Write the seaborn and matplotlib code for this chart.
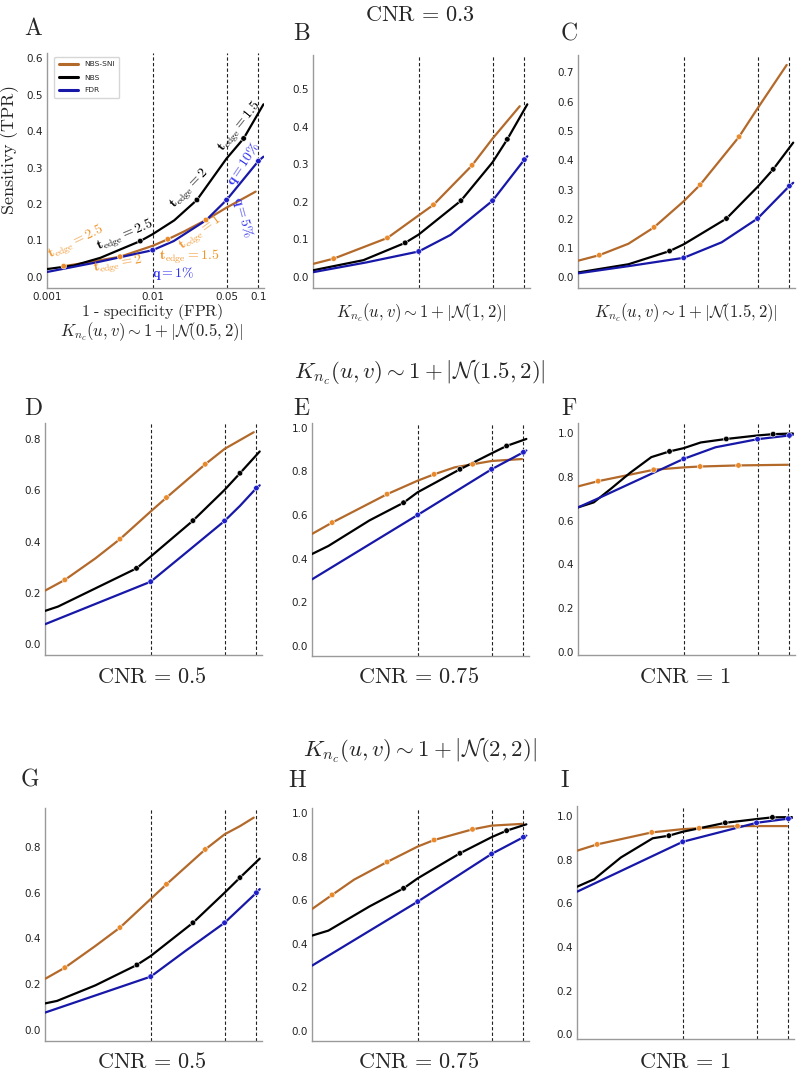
import numpy as np
import pandas as pd
import matplotlib
matplotlib.use("Agg")
import matplotlib.pyplot as plt
import seaborn as sns

# ---- data: (FPR, TPR) ----
METHODS = ["NBS-SNI", "NBS", "FDR"]
VLINES = [0.01, 0.05, 0.1]

# panel A : CNR = 0.3, N(0.5, 2)
A_SNI = [(0.00144, 0.029), (0.0025, 0.040), (0.00492, 0.055), (0.01, 0.085), (0.01391, 0.103),
         (0.02, 0.125), (0.0319, 0.156), (0.05, 0.190), (0.0943, 0.234)]
A_SNI_MK = [(0.00144, 0.029), (0.00492, 0.055), (0.01391, 0.103), (0.0319, 0.156)]
A_NBS = [(0.001, 0.021), (0.0018, 0.031), (0.0032, 0.052), (0.00763, 0.098), (0.01, 0.117),
         (0.016, 0.155), (0.0262, 0.211), (0.05, 0.325), (0.0725, 0.380), (0.1117, 0.474)]
A_NBS_MK = [(0.00763, 0.098), (0.0262, 0.211), (0.0725, 0.380)]
A_FDR = [(0.001, 0.013), (0.003, 0.040), (0.01, 0.073), (0.0158, 0.098), (0.0319, 0.155),
         (0.05, 0.211), (0.1, 0.318), (0.1117, 0.330)]
A_FDR_MK = [(0.01, 0.073), (0.05, 0.211), (0.1, 0.318)]

# panel B : CNR = 0.3, N(1, 2)
B_SNI = [(0.001, 0.035), (0.00157, 0.049), (0.00506, 0.104), (0.01, 0.164), (0.0138, 0.192),
         (0.032, 0.297), (0.05, 0.368), (0.0904, 0.454)]
B_SNI_MK = [(0.00157, 0.049), (0.00506, 0.104), (0.0138, 0.192), (0.032, 0.297)]
B_NBS = [(0.001, 0.018), (0.003, 0.045), (0.00745, 0.091), (0.01, 0.113), (0.0251, 0.203),
         (0.05, 0.305), (0.0689, 0.366), (0.1066, 0.459)]
B_NBS_MK = [(0.00745, 0.091), (0.0251, 0.203), (0.0689, 0.366)]
B_FDR = [(0.001, 0.013), (0.0032, 0.039), (0.01, 0.068), (0.02, 0.112), (0.05, 0.203),
         (0.1, 0.312), (0.1066, 0.321)]
B_FDR_MK = [(0.01, 0.068), (0.05, 0.203), (0.1, 0.312)]

# panel C : CNR = 0.3, N(1.5, 2)
C_SNI = [(0.001, 0.057), (0.00159, 0.076), (0.003, 0.115), (0.00524, 0.171), (0.01, 0.260),
         (0.0143, 0.316), (0.0334, 0.480), (0.05, 0.577), (0.0943, 0.725)]
C_SNI_MK = [(0.00159, 0.076), (0.00524, 0.171), (0.0143, 0.316), (0.0334, 0.480)]
C_NBS = [(0.001, 0.017), (0.003, 0.045), (0.00735, 0.090), (0.01, 0.113), (0.0254, 0.201),
         (0.05, 0.309), (0.0703, 0.369), (0.1087, 0.460)]
C_NBS_MK = [(0.00735, 0.090), (0.0254, 0.201), (0.0703, 0.369)]
C_FDR = [(0.001, 0.014), (0.0032, 0.040), (0.01, 0.067), (0.0229, 0.120), (0.05, 0.201),
         (0.1, 0.312), (0.1087, 0.323)]
C_FDR_MK = [(0.01, 0.067), (0.05, 0.201), (0.1, 0.312)]

# panel D : N(1.5, 2), CNR = 0.5
D_SNI = [(0.001, 0.209), (0.00154, 0.251), (0.003, 0.335), (0.00512, 0.410), (0.01, 0.518),
         (0.0141, 0.572), (0.0328, 0.702), (0.05, 0.762), (0.0944, 0.827)]
D_SNI_MK = [(0.00154, 0.251), (0.00512, 0.410), (0.0141, 0.572), (0.0328, 0.702)]
D_NBS = [(0.001, 0.130), (0.00133, 0.147), (0.003, 0.218), (0.00734, 0.296), (0.01, 0.342),
         (0.0251, 0.482), (0.05, 0.602), (0.0699, 0.667), (0.1075, 0.752)]
D_NBS_MK = [(0.00734, 0.296), (0.0251, 0.482), (0.0699, 0.667)]
D_FDR = [(0.001, 0.078), (0.01, 0.244), (0.0213, 0.355), (0.05, 0.481), (0.07, 0.540),
         (0.1, 0.609), (0.1075, 0.620)]
D_FDR_MK = [(0.01, 0.244), (0.05, 0.481), (0.1, 0.609)]

# panel E : N(1.5, 2), CNR = 0.75
E_SNI = [(0.001, 0.513), (0.00155, 0.565), (0.00513, 0.695), (0.01, 0.757), (0.0143, 0.786),
         (0.0224, 0.818), (0.0331, 0.832), (0.05, 0.847), (0.0969, 0.856)]
E_SNI_MK = [(0.00155, 0.565), (0.00513, 0.695), (0.0143, 0.786), (0.0331, 0.832)]
E_NBS = [(0.001, 0.421), (0.00143, 0.458), (0.0035, 0.575), (0.00735, 0.656), (0.01, 0.704),
         (0.0251, 0.809), (0.05, 0.882), (0.0694, 0.916), (0.1067, 0.948)]
E_NBS_MK = [(0.00735, 0.656), (0.0251, 0.809), (0.0694, 0.916)]
E_FDR = [(0.001, 0.305), (0.01, 0.600), (0.05, 0.809), (0.1, 0.887), (0.1067, 0.895)]
E_FDR_MK = [(0.01, 0.600), (0.05, 0.809), (0.1, 0.887)]

# panel F : N(1.5, 2), CNR = 1
F_SNI = [(0.001, 0.756), (0.00155, 0.780), (0.0052, 0.832), (0.01, 0.843), (0.0143, 0.847),
         (0.033, 0.852), (0.097, 0.855)]
F_SNI_MK = [(0.00155, 0.780), (0.0052, 0.832), (0.0143, 0.847), (0.033, 0.852)]
F_NBS = [(0.001, 0.660), (0.00141, 0.683), (0.00208, 0.748), (0.00309, 0.817), (0.00494, 0.890),
         (0.00734, 0.916), (0.01, 0.931), (0.0145, 0.957), (0.0253, 0.973), (0.05, 0.989),
         (0.0702, 0.995), (0.108, 0.998)]
F_NBS_MK = [(0.00734, 0.916), (0.0253, 0.973), (0.0702, 0.995)]
F_FDR = [(0.001, 0.660), (0.0015, 0.698), (0.01, 0.882), (0.02, 0.935), (0.05, 0.972),
         (0.1, 0.989), (0.108, 0.992)]
F_FDR_MK = [(0.01, 0.882), (0.05, 0.972), (0.1, 0.989)]

# panel G : N(2, 2), CNR = 0.5
G_SNI = [(0.001, 0.223), (0.00154, 0.272), (0.003, 0.367), (0.00512, 0.447), (0.01, 0.572),
         (0.0141, 0.636), (0.0328, 0.788), (0.05, 0.854), (0.07, 0.890), (0.0944, 0.927)]
G_SNI_MK = [(0.00154, 0.272), (0.00512, 0.447), (0.0141, 0.636), (0.0328, 0.788)]
G_NBS = [(0.001, 0.116), (0.0013, 0.127), (0.003, 0.195), (0.0074, 0.284), (0.01, 0.323),
         (0.0251, 0.468), (0.05, 0.599), (0.0699, 0.665), (0.1075, 0.748)]
G_NBS_MK = [(0.0074, 0.284), (0.0251, 0.468), (0.0699, 0.665)]
G_FDR = [(0.001, 0.076), (0.01, 0.233), (0.0213, 0.345), (0.05, 0.468), (0.1, 0.599),
         (0.1075, 0.615)]
G_FDR_MK = [(0.01, 0.233), (0.05, 0.468), (0.1, 0.599)]

# panel H : N(2, 2), CNR = 0.75
H_SNI = [(0.001, 0.560), (0.00155, 0.625), (0.0025, 0.695), (0.00513, 0.776), (0.01, 0.847),
         (0.0143, 0.877), (0.033, 0.926), (0.05, 0.943), (0.0969, 0.951)]
H_SNI_MK = [(0.00155, 0.625), (0.00513, 0.776), (0.0143, 0.877), (0.033, 0.926)]
H_NBS = [(0.001, 0.438), (0.00143, 0.461), (0.0035, 0.572), (0.00735, 0.655), (0.01, 0.701),
         (0.0251, 0.816), (0.05, 0.890), (0.0694, 0.920), (0.1067, 0.949)]
H_NBS_MK = [(0.00735, 0.655), (0.0251, 0.816), (0.0694, 0.920)]
H_FDR = [(0.001, 0.300), (0.01, 0.594), (0.05, 0.813), (0.1, 0.890), (0.1067, 0.897)]
H_FDR_MK = [(0.01, 0.594), (0.05, 0.813), (0.1, 0.890)]

# panel I : N(2, 2), CNR = 1
I_SNI = [(0.001, 0.841), (0.00155, 0.870), (0.0051, 0.925), (0.01, 0.940), (0.0143, 0.944),
         (0.033, 0.954), (0.097, 0.954)]
I_SNI_MK = [(0.00155, 0.870), (0.0051, 0.925), (0.0143, 0.944), (0.033, 0.954)]
I_NBS = [(0.001, 0.676), (0.00146, 0.711), (0.0026, 0.810), (0.0052, 0.898), (0.0074, 0.910),
         (0.01, 0.928), (0.0253, 0.969), (0.05, 0.986), (0.0706, 0.994), (0.108, 0.995)]
I_NBS_MK = [(0.0074, 0.910), (0.0253, 0.969), (0.0706, 0.994)]
I_FDR = [(0.001, 0.653), (0.01, 0.882), (0.05, 0.969), (0.1, 0.988), (0.108, 0.991)]
I_FDR_MK = [(0.01, 0.882), (0.05, 0.969), (0.1, 0.988)]

# ---- style ----
sns.set_style("white")
plt.rcParams["mathtext.fontset"] = "cm"
plt.rcParams["font.family"] = ["DejaVu Sans"]

LINE_COLORS = {"NBS-SNI": "#b3692a", "NBS": "#000000", "FDR": "#1717a8"}
MARK_COLORS = {"NBS-SNI": "#e88a2c", "NBS": "#000000", "FDR": "#2020c8"}
TXT_ORANGE = "#f0962e"
TXT_BLUE = "#3030f0"

W, H = 800, 1075
fig = plt.figure(figsize=(W / 100, H / 100), dpi=100)


def px_axes(l, t, r, b):
    return fig.add_axes([l / W, 1 - b / H, (r - l) / W, (b - t) / H])


def ftext(x, y, s, size, **kw):
    fig.text(x / W, 1 - y / H, s, fontsize=size, ha="center", va="center", **kw)


def to_df(sni, nbs, fdr):
    rows = []
    for name, pts in zip(METHODS, [sni, nbs, fdr]):
        for fx, ty in pts:
            rows.append({"fpr": fx, "tpr": ty, "method": name})
    return pd.DataFrame(rows)


# name, box(px), curves, markers, ylim, yticks
panels = [
    ("A", (47, 53, 264, 288), (A_SNI, A_NBS, A_FDR), (A_SNI_MK, A_NBS_MK, A_FDR_MK),
     (-0.031, 0.615), np.arange(0, 0.61, 0.1)),
    ("B", (313, 55, 530, 288), (B_SNI, B_NBS, B_FDR), (B_SNI_MK, B_NBS_MK, B_FDR_MK),
     (-0.029, 0.590), np.arange(0, 0.51, 0.1)),
    ("C", (578, 55, 795, 288), (C_SNI, C_NBS, C_FDR), (C_SNI_MK, C_NBS_MK, C_FDR_MK),
     (-0.036, 0.759), np.arange(0, 0.71, 0.1)),
    ("D", (45, 423, 262, 655), (D_SNI, D_NBS, D_FDR), (D_SNI_MK, D_NBS_MK, D_FDR_MK),
     (-0.042, 0.863), np.arange(0, 0.81, 0.2)),
    ("E", (312, 423, 529, 656), (E_SNI, E_NBS, E_FDR), (E_SNI_MK, E_NBS_MK, E_FDR_MK),
     (-0.046, 1.021), np.arange(0, 1.01, 0.2)),
    ("F", (578, 423, 795, 655), (F_SNI, F_NBS, F_FDR), (F_SNI_MK, F_NBS_MK, F_FDR_MK),
     (-0.015, 1.046), np.arange(0, 1.01, 0.2)),
    ("G", (45, 808, 262, 1041), (G_SNI, G_NBS, G_FDR), (G_SNI_MK, G_NBS_MK, G_FDR_MK),
     (-0.048, 0.969), np.arange(0, 0.81, 0.2)),
    ("H", (312, 808, 529, 1041), (H_SNI, H_NBS, H_FDR), (H_SNI_MK, H_NBS_MK, H_FDR_MK),
     (-0.046, 1.024), np.arange(0, 1.01, 0.2)),
    ("I", (577, 806, 794, 1039), (I_SNI, I_NBS, I_FDR), (I_SNI_MK, I_NBS_MK, I_FDR_MK),
     (-0.022, 1.046), np.arange(0, 1.01, 0.2)),
]

axes = {}
for name, box, curves, marks, ylim, yticks in panels:
    ax = px_axes(*box)
    axes[name] = ax
    ax.set_xscale("log")
    line_df = to_df(*curves)
    mark_df = to_df(*marks)
    for v in VLINES:
        ax.axvline(v, color="#222222", ls="--", lw=0.8, dashes=(3, 2), zorder=1)
    sns.lineplot(data=line_df, x="fpr", y="tpr", hue="method", hue_order=METHODS,
                 palette=LINE_COLORS, estimator=None, sort=False, lw=1.6,
                 legend=(name == "A"), ax=ax, zorder=3)
    sns.scatterplot(data=mark_df, x="fpr", y="tpr", hue="method", hue_order=METHODS,
                    palette=MARK_COLORS, s=16, linewidth=0.4, legend=False, ax=ax, zorder=4)
    ax.set_xlim(0.001, 0.113)
    ax.set_ylim(*ylim)
    ax.set_yticks(yticks)
    ax.set_yticklabels([f"{t:.1f}" for t in yticks])
    ax.minorticks_off()
    if name == "A":
        ax.set_xticks([0.001, 0.01, 0.05, 0.1])
        ax.set_xticklabels(["0.001", "0.01", "0.05", "0.1"])
    else:
        ax.set_xticks([])
    ax.tick_params(length=0, labelsize=7.5, pad=3, colors="#222222")
    ax.set_xlabel("")
    ax.set_ylabel("")
    for side in ["top", "right"]:
        ax.spines[side].set_visible(False)
    for side in ["left", "bottom"]:
        ax.spines[side].set_color("#9a9a9a")
        ax.spines[side].set_linewidth(1.0)

# legend in panel A
axA = axes["A"]
leg = axA.legend(loc="upper left", bbox_to_anchor=(0.015, 1.0), fontsize=5.4, frameon=True,
                 handlelength=2.6, borderpad=0.6, labelspacing=0.9, title=None)
leg.get_frame().set_edgecolor("#cccccc")
for h in leg.get_lines():
    h.set_linewidth(2.2)

# annotations in panel A
ann = dict(fontsize=10, ha="center", va="center", zorder=5)
axA.text(0.0674, 0.411, r"$\mathbf{t}_{\mathrm{edge}}=\mathbf{1.5}$", rotation=51, color="black", **ann)
axA.text(0.0225, 0.241, r"$\mathbf{t}_{\mathrm{edge}}=\mathbf{2}$", rotation=46, color="black", **ann)
axA.text(0.00553, 0.112, r"$\mathbf{t}_{\mathrm{edge}}=\mathbf{2.5}$", rotation=23, color="black", **ann)
axA.text(0.00189, 0.095, r"$\mathbf{t}_{\mathrm{edge}}=\mathbf{2.5}$", rotation=26, color=TXT_ORANGE, **ann)
axA.text(0.00474, 0.031, r"$\mathbf{t}_{\mathrm{edge}}=\mathbf{2}$", rotation=10, color=TXT_ORANGE, **ann)
axA.text(0.0222, 0.054, r"$\mathbf{t}_{\mathrm{edge}}=\mathbf{1.5}$", rotation=0, color=TXT_ORANGE, **ann)
axA.text(0.0285, 0.118, r"$\mathbf{t}_{\mathrm{edge}}=\mathbf{1}$", rotation=36, color=TXT_ORANGE, **ann)
axA.text(0.0158, 0.009, r"$\mathbf{q}=\mathbf{1\%}$", rotation=0, color=TXT_BLUE, **ann)
axA.text(0.0705, 0.164, r"$\mathbf{q}=\mathbf{5\%}$", rotation=-75, color=TXT_BLUE, **ann)
axA.text(0.0735, 0.310, r"$\mathbf{q}=\mathbf{10\%}$", rotation=56, color=TXT_BLUE, **ann)

# figure texts
ftext(420, 15, r"$\mathrm{CNR}\,=\,0.3$", 16)
ftext(10, 150, r"$\mathrm{Sensitivy\ (TPR)}$", 13, rotation=90)
ftext(152, 312, r"$\mathrm{1\ \text{-}\ specificity\ (FPR)}$", 11.5)
ftext(152, 332, r"$K_{n_c}(u,v) \sim 1 + |\mathcal{N}(0.5,2)|$", 12)
ftext(421, 313, r"$K_{n_c}(u,v) \sim 1 + |\mathcal{N}(1,2)|$", 12)
ftext(686, 313, r"$K_{n_c}(u,v) \sim 1 + |\mathcal{N}(1.5,2)|$", 12)
ftext(420, 372, r"$K_{n_c}(u,v) \sim 1 + |\mathcal{N}(1.5,2)|$", 16.5)
ftext(420, 750, r"$K_{n_c}(u,v) \sim 1 + |\mathcal{N}(2,2)|$", 16.5)

for x, lab in [(152, "0.5"), (419, "0.75"), (685, "1")]:
    ftext(x, 677, r"$\mathrm{CNR}\,=\," + lab + "$", 16)
    ftext(x, 1062, r"$\mathrm{CNR}\,=\," + lab + "$", 16)

for lab, x, y in [("A", 33, 28), ("B", 302, 33), ("C", 569, 33),
                  ("D", 33, 408), ("E", 302, 408), ("F", 569, 408),
                  ("G", 30, 778), ("H", 297, 780), ("I", 565, 780)]:
    ftext(x, y, r"$\mathrm{" + lab + "}$", 17)

fig.savefig("out.png", dpi=100)
